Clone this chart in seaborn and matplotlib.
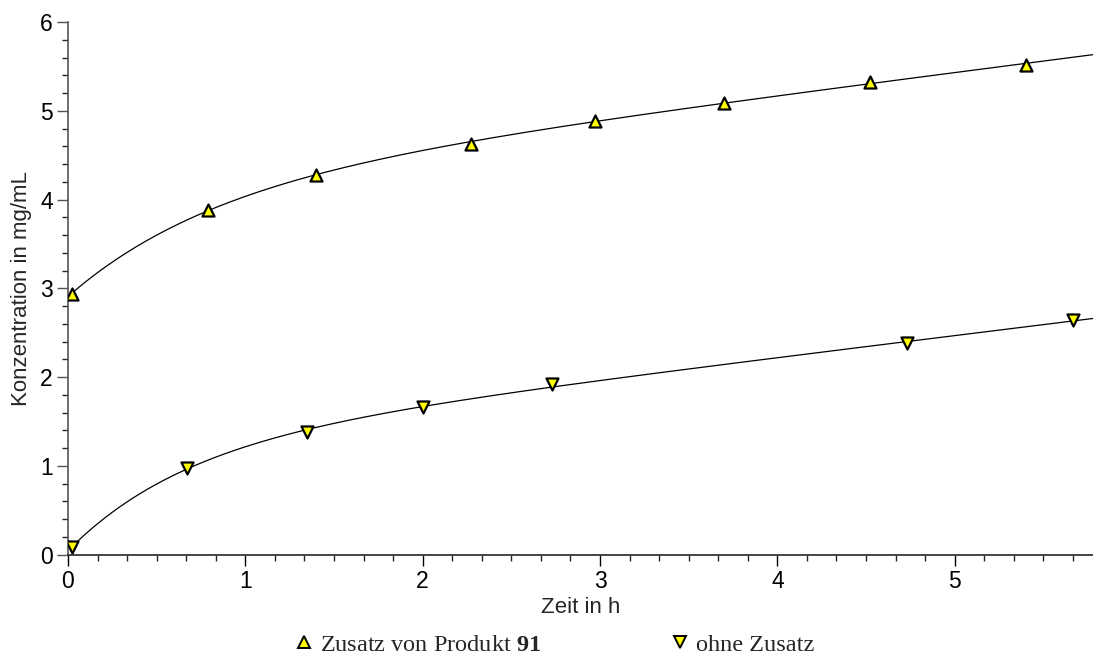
import numpy as np
import pandas as pd
import matplotlib
matplotlib.use("Agg")
import matplotlib.pyplot as plt
from matplotlib.lines import Line2D
from matplotlib.ticker import MultipleLocator
import seaborn as sns

t_mit = [0.02, 0.79, 1.40, 2.27, 2.97, 3.70, 4.52, 5.40]
c_mit = [2.94, 3.88, 4.28, 4.63, 4.89, 5.09, 5.32, 5.52]

t_ohne = [0.02, 0.67, 1.35, 2.00, 2.73, 4.73, 5.67]
c_ohne = [0.08, 0.98, 1.38, 1.66, 1.92, 2.38, 2.64]

label_mit = r"Zusatz von Produkt $\mathbf{91}$"
label_ohne = "ohne Zusatz"

x_max = 5.78

sns.set_style("ticks")
plt.rcParams["font.family"] = ["Liberation Sans", "DejaVu Sans"]
plt.rcParams["mathtext.fontset"] = "custom"
plt.rcParams["mathtext.rm"] = "Liberation Serif"
plt.rcParams["mathtext.bf"] = "Liberation Serif:bold"


def fit_curve(t, c):
    # Ausgleichskurve c = a + b*(1 - exp(-k t)) + d*t, k per Gittersuche
    t = np.asarray(t)
    c = np.asarray(c)
    best = None
    for k in np.linspace(0.2, 6, 300):
        A = np.column_stack([np.ones_like(t), 1 - np.exp(-k * t), t])
        coef, *_ = np.linalg.lstsq(A, c, rcond=None)
        err = np.sum((A @ coef - c) ** 2)
        if best is None or err < best[0]:
            best = (err, k, coef)
    _, k, coef = best
    tt = np.linspace(t[0], x_max, 300)
    cc = coef[0] + coef[1] * (1 - np.exp(-k * tt)) + coef[2] * tt
    return pd.DataFrame({"t": tt, "c": cc})


fig = plt.figure(figsize=(10.93, 6.57), dpi=100)
ax = fig.add_axes([0.0622, 0.156, 0.9378, 0.8105])

for t, c, m in [(t_mit, c_mit, "^"), (t_ohne, c_ohne, "v")]:
    curve = fit_curve(t, c)
    sns.lineplot(data=curve, x="t", y="c", ax=ax, color="black", lw=0.9, sort=False)
    sns.scatterplot(x=t, y=c, ax=ax, marker=m, s=75, color="yellow",
                    edgecolor="black", linewidth=1.6, zorder=3)

ax.set_xlim(0, x_max)
ax.set_ylim(0, 6)
ax.xaxis.set_major_locator(MultipleLocator(1))
ax.xaxis.set_minor_locator(MultipleLocator(1 / 6))
ax.yaxis.set_major_locator(MultipleLocator(1))
ax.yaxis.set_minor_locator(MultipleLocator(0.2))
ax.tick_params(which="major", length=8, width=1, labelsize=16.5, pad=3)
ax.tick_params(which="minor", length=4.5, width=1)
ax.tick_params(axis="y", colors="#555555", labelcolor="black")
ax.tick_params(axis="x", colors="black")

sns.despine(ax=ax)
ax.spines["left"].set_color("#555555")
ax.spines["left"].set_linewidth(1.2)
ax.spines["bottom"].set_linewidth(1.2)
ax.spines["bottom"].set_clip_on(False)

ax.set_xlabel("Zeit in h", fontsize=16, labelpad=3)
ax.set_ylabel("Konzentration in mg/mL", fontsize=16, labelpad=6)

handles = [
    Line2D([], [], ls="none", marker="^", ms=8, mfc="yellow", mec="black", mew=1.4, label=label_mit),
    Line2D([], [], ls="none", marker="v", ms=8, mfc="yellow", mec="black", mew=1.4, label=label_ohne),
]
fig.legend(handles=handles, loc="center", bbox_to_anchor=(0.506, 0.019), ncol=2,
           frameon=False, handletextpad=0.15, columnspacing=5.2, handlelength=1.0,
           borderpad=0.1, prop={"family": "Liberation Serif", "size": 17.5})

fig.savefig("out.png", dpi=100)
